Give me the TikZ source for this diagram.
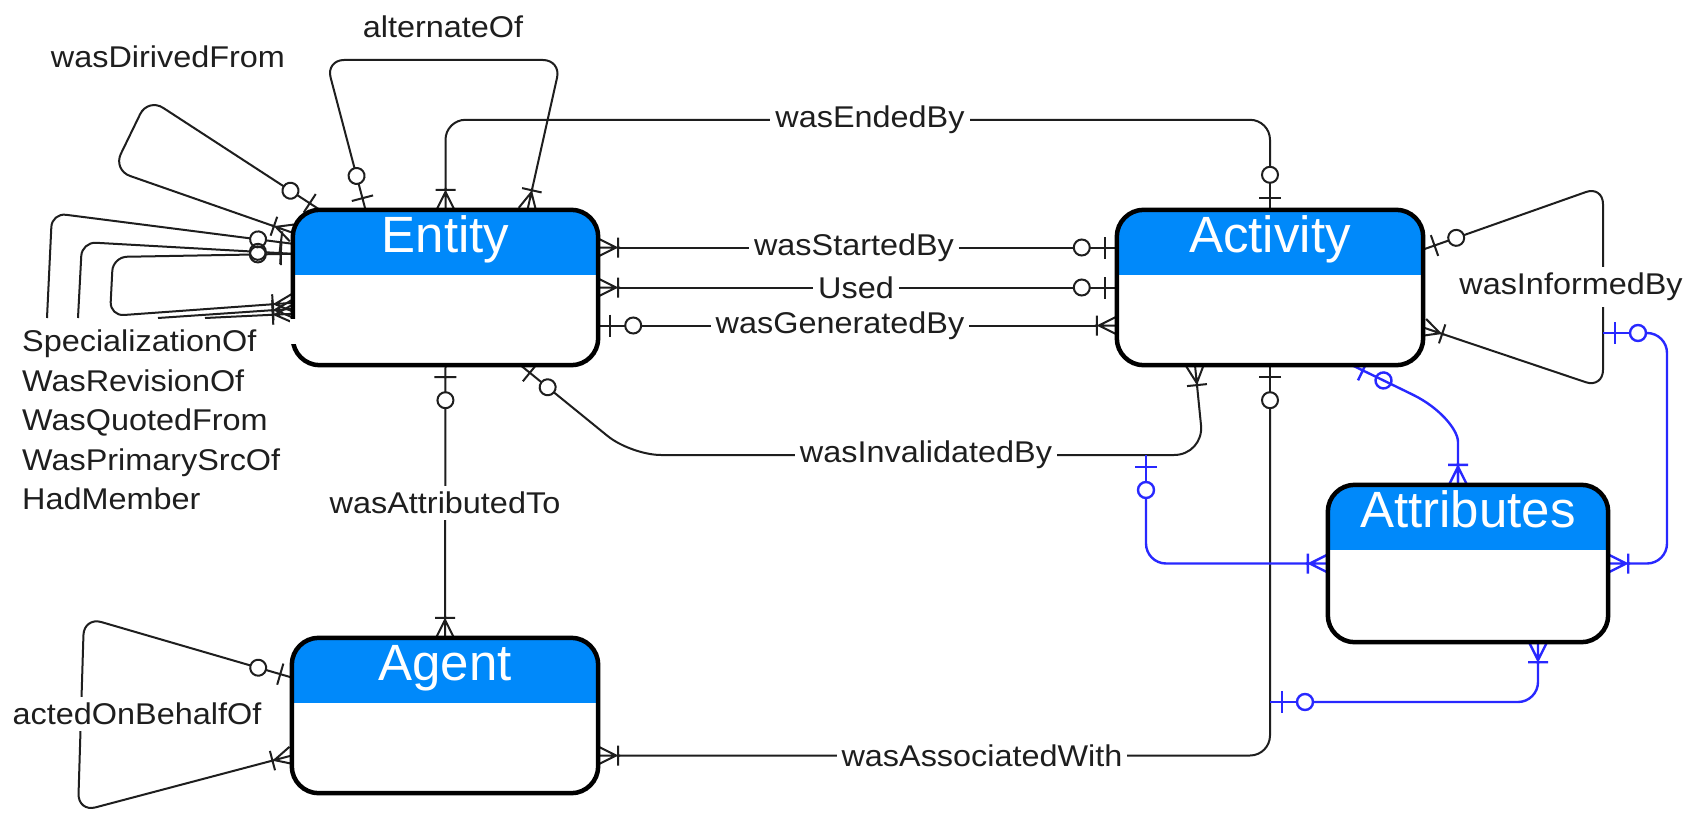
\documentclass[tikz,border=0pt]{standalone}
\usepackage{fontspec}
\setmainfont{Liberation Sans}
\newfontfamily\lblfont[FakeStretch=1.08]{Liberation Sans}
\newfontfamily\hdrfont{Liberation Sans}
\usetikzlibrary{calc}
\definecolor{hdrblue}{RGB}{0,137,250}
\definecolor{erblue}{RGB}{40,40,255}
\definecolor{ink}{RGB}{30,30,30}

\pgfdeclarearrow{
  name = ZO,
  setup code = {
    \pgfarrowssettipend{0pt}
    \pgfarrowssetlineend{-43pt}
    \pgfarrowssetvisualbackend{-43pt}
    \pgfarrowssetbackend{-43pt}
    \pgfarrowshullpoint{0pt}{11pt}
    \pgfarrowshullpoint{0pt}{-11pt}
    \pgfarrowshullpoint{-43pt}{8pt}
    \pgfarrowshullpoint{-43pt}{-8pt}
  },
  drawing code = {
    \pgfpathmoveto{\pgfpoint{0pt}{0pt}}
    \pgfpathlineto{\pgfpoint{-27pt}{0pt}}
    \pgfpathmoveto{\pgfpoint{-12pt}{-11pt}}
    \pgfpathlineto{\pgfpoint{-12pt}{11pt}}
    \pgfusepathqstroke
    \pgfpathcircle{\pgfpoint{-35pt}{0pt}}{8pt}
    \pgfusepathqstroke
  }
}
\pgfdeclarearrow{
  name = OM,
  setup code = {
    \pgfarrowssettipend{0pt}
    \pgfarrowssetlineend{-21pt}
    \pgfarrowssetvisualbackend{-21pt}
    \pgfarrowssetbackend{-21pt}
    \pgfarrowshullpoint{0pt}{10pt}
    \pgfarrowshullpoint{0pt}{-10pt}
    \pgfarrowshullpoint{-21pt}{11pt}
    \pgfarrowshullpoint{-21pt}{-11pt}
  },
  drawing code = {
    \pgfpathmoveto{\pgfpoint{-22pt}{0pt}}
    \pgfpathlineto{\pgfpoint{0pt}{0pt}}
    \pgfpathmoveto{\pgfpoint{0pt}{9pt}}
    \pgfpathlineto{\pgfpoint{-18pt}{0pt}}
    \pgfpathlineto{\pgfpoint{0pt}{-9pt}}
    \pgfpathmoveto{\pgfpoint{-20pt}{10pt}}
    \pgfpathlineto{\pgfpoint{-20pt}{-10pt}}
    \pgfusepathqstroke
  }
}

\tikzset{
  conn/.style={line width=2pt, draw=ink, rounded corners=20pt},
  bconn/.style={line width=2.4pt, draw=erblue, rounded corners=20pt},
  lbl/.style={font=\lblfont\fontsize{30}{36}\selectfont, fill=white, inner xsep=5pt, inner ysep=1pt, text=ink},
  plainlbl/.style={font=\lblfont\fontsize{30}{36}\selectfont, inner sep=0pt, text=ink},
  erbox/.style={draw=none, inner sep=0pt},
  boxline/.style={draw=black, line width=4.5pt},
  hdrtext/.style={font=\hdrfont\fontsize{51}{51}\selectfont, text=white, inner sep=0pt, anchor=base},
}

\newcommand\erdraw[2]{%
  \begin{scope}
    \clip[rounded corners=27pt] (#1.north west) rectangle (#1.south east);
    \fill[white] (#1.north west) rectangle (#1.south east);
    \fill[hdrblue] (#1.north west) rectangle ([yshift=-65pt]#1.north east);
  \end{scope}
  \draw[boxline, rounded corners=27pt] (#1.north west) rectangle (#1.south east);
  \node[hdrtext] at ([yshift=-43pt]#1.north) {#2};
}

\begin{document}
\begin{tikzpicture}[x=1pt,y=-1pt]
\fill[white] (0,0) rectangle (1706,816);
\useasboundingbox (0,0) rectangle (1706,816);

% entity boxes (named, drawn later on top)
\node[erbox, minimum width=305pt, minimum height=155pt] (ent) at (445.5,287.5) {};
\node[erbox, minimum width=306pt, minimum height=155pt] (act) at (1270,287.5) {};
\node[erbox, minimum width=306pt, minimum height=155pt] (agt) at (445,715.5) {};
\node[erbox, minimum width=280pt, minimum height=157pt] (att) at (1468,563.5) {};

% free ends
\coordinate (sA) at (47,318);
\coordinate (sB) at (78,318);
\coordinate (sC) at (158,318);
\coordinate (sD) at (205,318);
\coordinate (wiB) at (1146,455);
\coordinate (wifB) at (1603,333);
\coordinate (waB) at (1270,702);

% ---------- black connectors ----------
% wasEndedBy
\draw[conn, {OM}-{ZO}] (ent.north) -- ++(0,-90) -| (act.north);
% alternateOf
\draw[conn, {ZO}-{OM}, rounded corners=18pt] ([xshift=-80pt]ent.north) -- (326,60) -- (561,60) -- ([xshift=82pt]ent.north);
% wasDirivedFrom
\draw[conn, {ZO}-{OM}, rounded corners=18pt] ([xshift=27pt]ent.north west) -- (148,98) -- (113,170) -- ([yshift=-23pt]ent.north west);
% SpecializationOf ... HadMember loops
\draw[conn, {ZO}-, rounded corners=14pt] ([yshift=-34pt]ent.north west) -- (52,213) -- (sA);
\draw[conn, {ZO}-, rounded corners=14pt] ([yshift=-44pt]ent.north west) -- (82,242) -- (sB);
\draw[conn, {ZO}-{OM}, rounded corners=14pt] ([yshift=-44pt]ent.north west) -- (113,257) -- (110,316) -- ([yshift=-93pt]ent.north west);
\draw[conn, -{OM}] (sC) -- ([yshift=-99pt]ent.north west);
\draw[conn, -{OM}] (sD) -- ([yshift=-104pt]ent.north west);
% wasStartedBy / Used / wasGeneratedBy
\draw[conn, {OM}-{ZO}] ([yshift=40pt]ent.east) -- ([yshift=40pt]act.west);
\draw[conn, {OM}-{ZO}] (ent.east) -- (act.west);
\draw[conn, {ZO}-{OM}] ([yshift=-38pt]ent.east) -- ([yshift=-38pt]act.west);
% wasInvalidatedBy
\draw[conn, {ZO}-{OM}, rounded corners=30pt] ([xshift=75pt]ent.south) -- (631,455) -- (1204,455) -- ([xshift=-75pt]act.south);
% wasAttributedTo
\draw[conn, {ZO}-{OM}] (ent.south) -- (agt.north);
% wasAssociatedWith
\draw[conn, {OM}-{ZO}] ([yshift=-40pt]agt.east) -| (act.south);
% wasInformedBy
\draw[conn, {ZO}-{OM}, rounded corners=18pt] ([yshift=38pt]act.east) -- (1603,186) -- (1603,388) -- ([yshift=-40pt]act.east);
% actedOnBehalfOf
\draw[conn, {ZO}-{OM}, rounded corners=18pt] ([yshift=38pt]agt.west) -- (84,617) -- (78,812) -- ([yshift=-40pt]agt.west);

% ---------- blue connectors ----------
\draw[bconn, {ZO}-{OM}] ([xshift=82pt]act.south) -- (1395,386) .. controls (1440,408) and (1458,430) .. (1458,462) -- ([xshift=-10pt]att.north);
\draw[bconn, {ZO}-{OM}] (wiB) -- (wiB |- att.west) -- (att.west);
\draw[bconn, {ZO}-{OM}] (wifB) -- ++(64,0) |- (att.east);
\draw[bconn, {ZO}-{OM}] (waB) -| ([xshift=70pt]att.south);

% ---------- labels ----------
\node[lbl] at (870,120) {wasEndedBy};
\node[lbl] at (854,248) {wasStartedBy};
\node[lbl] at (856,288) {Used};
\node[lbl] at (840,326) {wasGeneratedBy};
\node[lbl] at (926,455) {wasInvalidatedBy};
\node[lbl, inner ysep=6pt] at (445,503) {wasAttributedTo};
\node[lbl] at (982,756) {wasAssociatedWith};
\node[lbl, inner ysep=6pt] at (1571,287) {wasInformedBy};
\node[lbl, inner ysep=6pt] at (137,714) {actedOnBehalfOf};
\node[plainlbl] at (443,27) {alternateOf};
\node[plainlbl] at (168,57) {wasDirivedFrom};
\node[plainlbl, align=left, anchor=north west, font=\lblfont\fontsize{30}{39.5}\selectfont] (spec) at (22,330)
  {SpecializationOf\\WasRevisionOf\\WasQuotedFrom\\WasPrimarySrcOf\\HadMember};

% ---------- entity boxes ----------
\erdraw{ent}{Entity}
\draw[white, line width=6pt] ([yshift=-109pt]ent.north west) -- ([yshift=-134pt]ent.north west);
\erdraw{act}{Activity}
\erdraw{agt}{Agent}
\erdraw{att}{Attributes}
\end{tikzpicture}
\end{document}
